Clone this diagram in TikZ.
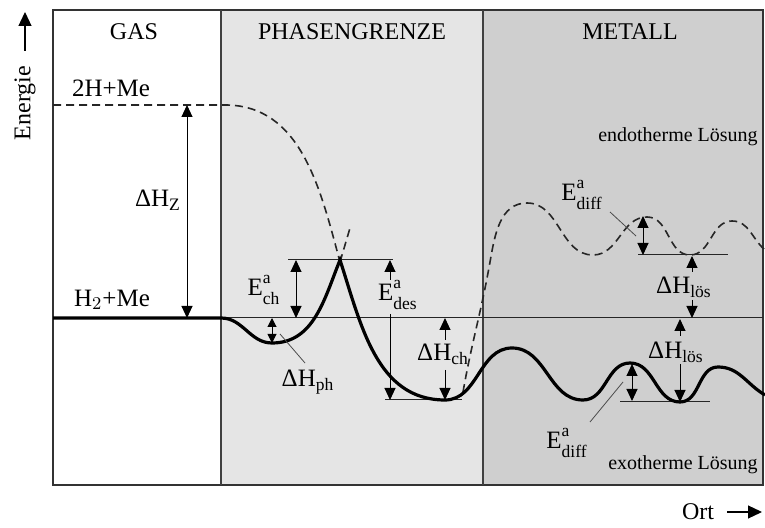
\documentclass[tikz,border=0pt]{standalone}
\usepackage{amsmath}
\usepackage{fontspec}
\setmainfont{Liberation Serif}
\usetikzlibrary{arrows.meta,positioning}

\newcommand{\Eakt}[1]{E$^{\text{\raisebox{2pt}{a}}}_{\text{\raisebox{-1.5pt}{#1}}}$}
\newcommand{\dHsub}[1]{ΔH$_{\text{#1}}$}

\begin{document}
\begin{tikzpicture}[
    x=0.5pt, y=0.5pt,
    frame/.style={draw=black!80, line width=1pt},
    divider/.style={draw=black!75, line width=0.8pt},
    level/.style={draw=black!85, line width=0.5pt},
    curve/.style={draw=black, line width=1.6pt},
    dcurve/.style={draw=black!85, line width=0.8pt, dash pattern=on 4pt off 2.5pt},
    dim/.style={{Triangle[length=6pt,width=5.5pt]}-{Triangle[length=6pt,width=5.5pt]}, line width=0.5pt},
    smalldim/.style={{Triangle[length=4.5pt,width=4.5pt]}-{Triangle[length=4.5pt,width=4.5pt]}, line width=0.5pt},
    arrow/.style={-{Triangle[length=6pt,width=5.5pt]}, line width=0.5pt},
    axis/.style={-{Triangle[length=7pt,width=6.5pt]}, line width=0.6pt},
    head/.style={font=\fontsize{12}{14}\selectfont},
    label/.style={font=\fontsize{12.5}{14}\selectfont, inner sep=1pt},
    note/.style={font=\fontsize{10}{12}\selectfont},
    leader/.style={draw=black!70, line width=0.4pt}
]
    \useasboundingbox (0,-528) rectangle (765,0);

    % Bereiche
    \fill[black!10] (221,-10) rectangle (483,-485);
    \fill[black!19] (483,-10) rectangle (763,-485);
    \draw[frame] (53,-10) rectangle (763,-485);
    \draw[divider] (221,-10) -- (221,-485);
    \draw[divider] (483,-10) -- (483,-485);

    \node[head] (gas)    at (134,-32) {GAS};
    \node[head] (grenze) at (352,-32) {PHASENGRENZE};
    \node[head] (metall) at (630,-32) {METALL};

    % Achsen
    \node[head, rotate=90] (energie) at (25,-103) {Energie};
    \coordinate (etop) at (25,-12);
    \draw[axis] ([yshift=4pt]energie.east) -- (etop);
    \node[head] (ort) at (698,-512) {Ort};
    \coordinate (oend) at (762,-512);
    \draw[axis] (ort.east) ++(3pt,0) -- (oend);

    % Niveaulinien
    \draw[level] (221,-318) -- (763,-318);
    \draw[level] (288,-260) -- (393,-260);
    \draw[level] (385,-400) -- (462,-400);
    \draw[level] (638,-255) -- (728,-255);
    \draw[level] (620,-402) -- (710,-402);

    % Dissoziation 2H+Me
    \draw[dcurve] (53,-105) -- (225,-105) to[out=0,in=105] (340,-262);
    \draw[dcurve] (340,-262) -- (350,-228);

    % endotherme Loesung
    \draw[dcurve] (463,-392) to[out=80,in=-100] (490,-262)
        to[out=80,in=180] (527,-203) to[out=0,in=180] (593,-255)
        to[out=0,in=180] (647,-217) to[out=0,in=180] (690,-255)
        to[out=0,in=180] (732,-221) to[out=0,in=140] (765,-250);

    % Energieverlauf (exotherm)
    \draw[curve] (53,-318) -- (221,-318) to[out=0,in=180] (272,-343)
        to[out=0,in=-112] (340,-260) to[out=-72,in=180] (445,-400)
        to[out=0,in=180] (512,-348) to[out=0,in=180] (583,-400)
        to[out=0,in=180] (630,-363) to[out=0,in=180] (680,-402)
        to[out=0,in=180] (718,-367) to[out=0,in=150] (765,-395);

    % Beschriftung Gas
    \node[label] (zweih) at (111,-88)  {2H+Me};
    \node[label] (hzwei) at (112,-300) {H$_2$+Me};
    \draw[dim] (187,-105) -- (187,-318);
    \node[label] (dhz) at (158,-200) {\dHsub{Z}};

    % Beschriftung Phasengrenze
    \draw[dim] (296,-260) -- (296,-318);
    \node[label] (ech) at (264,-290) {\Eakt{ch}};
    \draw[smalldim] (272,-318) -- (272,-343);
    \draw[leader] (280,-334) -- (305,-363);
    \node[label] (dhph) at (308,-382) {\dHsub{ph}};
    \draw[arrow] (390,-280) -- (390,-260);
    \node[label] (edes) at (398,-295) {\Eakt{des}};
    \draw[arrow] (390,-314) -- (390,-400);
    \draw[arrow] (445,-340) -- (445,-318);
    \node[label] (dhch) at (443,-354) {\dHsub{ch}};
    \draw[arrow] (445,-370) -- (445,-400);

    % Beschriftung Metall
    \node[note] (endo) at (678,-137) {endotherme Lösung};
    \node[note] (exo)  at (683,-465) {exotherme Lösung};
    \draw[dim] (643,-216) -- (643,-255);
    \node[label] (ediffo) at (582,-195) {\Eakt{diff}};
    \draw[leader] (610,-212) -- (636,-236);
    \draw[arrow] (692,-272) -- (692,-256);
    \node[label] (dhloeso) at (684,-287) {\dHsub{lös}};
    \draw[arrow] (692,-300) -- (692,-318);
    \draw[arrow] (680,-336) -- (680,-319);
    \node[label] (dhloesu) at (676,-352) {\dHsub{lös}};
    \draw[arrow] (680,-364) -- (680,-402);
    \draw[dim] (632,-364) -- (632,-401);
    \draw[leader] (623,-382) -- (590,-422);
    \node[label] (ediffu) at (567,-443) {\Eakt{diff}};
\end{tikzpicture}
\end{document}
